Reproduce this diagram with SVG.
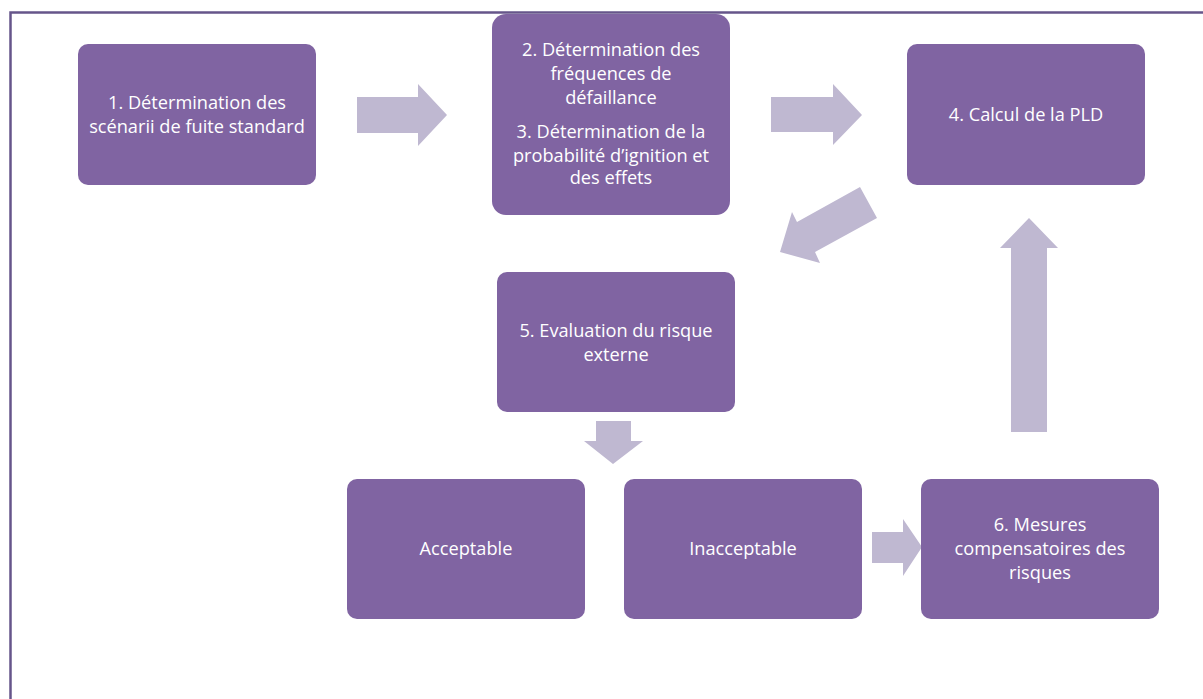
<svg xmlns="http://www.w3.org/2000/svg" width="1203" height="699" viewBox="0 0 1203 699">
<style>
.box{fill:#8064A2}
.t{font-family:"Open Sans","Liberation Sans",sans-serif;font-size:18.2px;fill:#ffffff;text-anchor:middle}
.arr{fill:#BFB8D1}
</style>
<rect x="0" y="0" width="1203" height="699" fill="#ffffff"/>
<path d="M10.5,699 V12.5 H1203" fill="none" stroke="#66558A" stroke-width="2.5"/>
<g id="connectors">
<polygon class="arr" points="357,97 418,97 418,84 447,115 418,146 418,133 357,133"/>
<polygon class="arr" points="771,97 833,97 833,84 862,115 833,145 833,132 771,132"/>
<polygon class="arr" points="860,187 877,218 815,252 820,263 780,252 792,212 797,222"/>
<polygon class="arr" points="596,421 631,421 631,441 643,441 613,464 584,441 596,441"/>
<polygon class="arr" points="872,532 903,532 903,519 922,547 903,576 903,563 872,563"/>
<polygon class="arr" points="1011,432 1011,248 1000,248 1029,218 1058,248 1047,248 1047,432"/>
</g>
<g id="n1"><rect class="box" x="78" y="44" width="238" height="141" rx="10"/>
<text class="t" x="197" y="109">1. Détermination des</text><text class="t" x="197" y="133">scénarii de fuite standard</text></g>
<g id="n2"><rect class="box" x="492" y="14" width="238" height="201" rx="14"/>
<text class="t" x="611" y="56">2. Détermination des</text><text class="t" x="611" y="80">fréquences de</text><text class="t" x="611" y="104">défaillance</text>
<text class="t" x="611" y="138">3. Détermination de la</text><text class="t" x="611" y="162">probabilité d’ignition et</text><text class="t" x="611" y="184">des effets</text></g>
<g id="n4"><rect class="box" x="907" y="44" width="238" height="141" rx="10"/>
<text class="t" x="1026" y="121">4. Calcul de la PLD</text></g>
<g id="n5"><rect class="box" x="497" y="272" width="238" height="140" rx="10"/>
<text class="t" x="616" y="337">5. Evaluation du risque</text><text class="t" x="616" y="361">externe</text></g>
<g id="nA"><rect class="box" x="347" y="479" width="238" height="140" rx="10"/>
<text class="t" x="466" y="555">Acceptable</text></g>
<g id="nI"><rect class="box" x="624" y="479" width="238" height="140" rx="10"/>
<text class="t" x="743" y="555">Inacceptable</text></g>
<g id="n6"><rect class="box" x="921" y="479" width="238" height="140" rx="10"/>
<text class="t" x="1040" y="531">6. Mesures</text><text class="t" x="1040" y="555">compensatoires des</text><text class="t" x="1040" y="579">risques</text></g>
</svg>
